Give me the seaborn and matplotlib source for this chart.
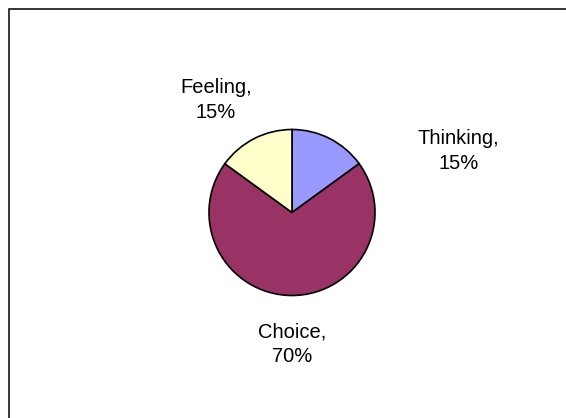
import matplotlib
matplotlib.use("Agg")
import matplotlib.pyplot as plt
from matplotlib.patches import Rectangle
import seaborn as sns

# Share of each mode
categories = ["Thinking", "Choice", "Feeling"]
shares = [15, 70, 15]
slice_colors = ["#9999FF", "#993366", "#FFFFCC"]

sns.set_theme(style="white")
plt.rcParams["font.family"] = ["Liberation Sans", "DejaVu Sans"]

W, H = 566, 418
fig = plt.figure(figsize=(W / 100, H / 100), dpi=100)
fig.patch.set_facecolor("white")

ax = fig.add_axes([0, 0, 1, 1])

palette = sns.color_palette(slice_colors)
cx, cy, r = 292, H - 212.5, 83
wedges, _ = ax.pie(
    shares,
    colors=palette,
    startangle=90,
    counterclock=False,
    center=(cx, cy),
    radius=r,
    frame=True,
    wedgeprops=dict(edgecolor="black", linewidth=1.2),
)
ax.set_xlim(0, W)
ax.set_ylim(0, H)
ax.set_axis_off()

# Category labels placed around the pie
label_pos = {"Thinking": (458.5, 151), "Choice": (292.5, 344), "Feeling": (216, 100)}
for name, val in zip(categories, shares):
    x, y = label_pos[name]
    ax.text(x, H - y, f"{name},\n{val}%", ha="center", va="center",
            fontsize=14.5, color="black", linespacing=1.35)

# Chart-area border
fig.patches.append(Rectangle((8.5, -20), W + 20, H - 8.5 + 20,
                             transform=None, fill=False,
                             edgecolor="black", linewidth=1.1))

fig.savefig("out.png", dpi=100, facecolor="white")
